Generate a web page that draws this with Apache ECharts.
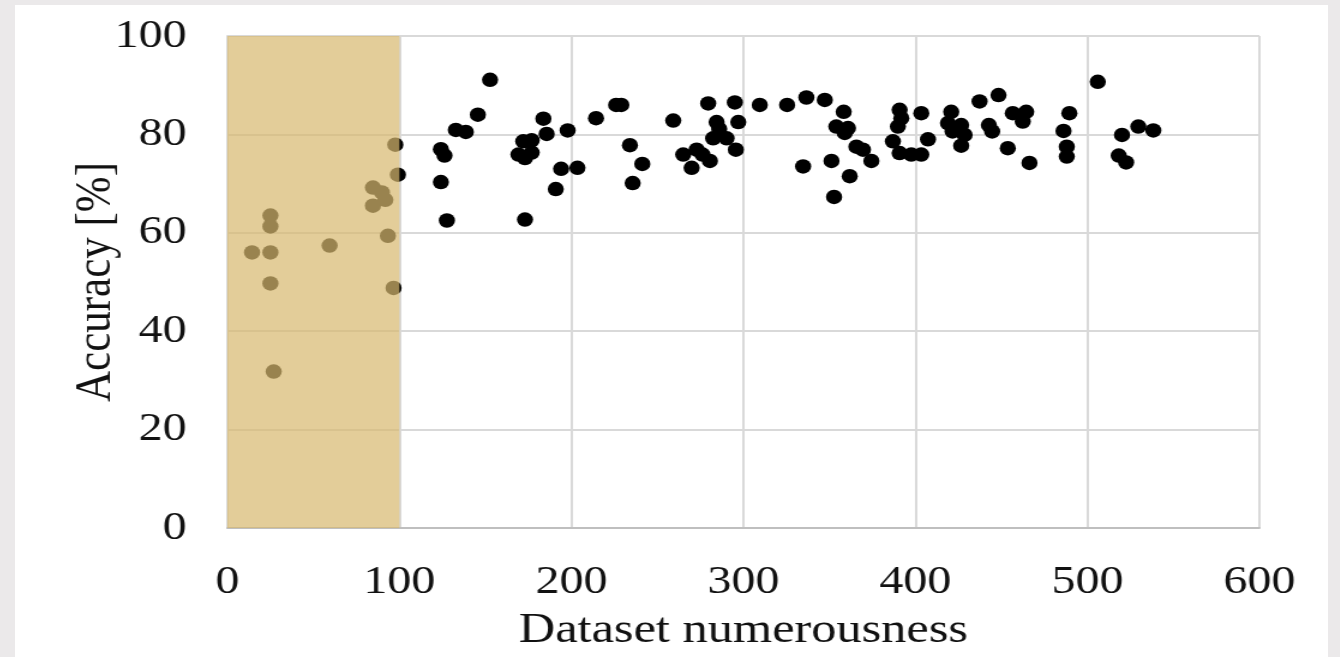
<!DOCTYPE html>
<html>
<head>
<meta charset="utf-8">
<script src="https://cdn.jsdelivr.net/npm/echarts@6/dist/echarts.min.js"></script>
<style>
html,body{margin:0;padding:0;background:#ebe9ea;width:1340px;height:657px;overflow:hidden;}
#frame{position:absolute;left:15px;top:5px;width:1313px;height:652px;background:#ffffff;overflow:hidden;}
#chart{position:absolute;left:0;top:0;width:1094px;height:652px;transform:scaleX(1.2);transform-origin:0 0;}
</style>
</head>
<body>
<div id="frame"><div id="chart"></div></div>
<script>
// Dataset numerousness (x) and Accuracy [%] (y)
const numerousness = [
  97.6, 99.1, 84.6, 89.8, 91.8, 84.6, 25, 25, 93.3, 59.4, 14.3, 25, 25, 96.6, 26.9,
  152.7, 145.6, 132.8, 138.6, 124.1, 126.2, 124.1, 127.6,
  183.7, 172, 176.9, 169.2, 173, 176.9, 185.6, 197.8, 214.3, 226, 229, 234, 241.2, 235.6, 194, 203.5, 190.9, 173,
  259.2, 279.5, 295, 309.5, 325.4, 334.7, 297, 284.4, 285.9, 282.4, 290.2, 295.6, 265, 272.8, 276.2, 280.5, 269.9,
  336.6, 347.3, 358.3, 354, 360.8, 358.9, 365.7, 369.5, 374.4, 351.2, 361.8, 352.7,
  390.8, 391.8, 389.8, 386.9, 390.8, 397.6, 403.4, 403.4, 407.3,
  420.8, 418.9, 426.6, 421.6, 428.6, 426.6, 437.3, 448.3, 442.7, 444.6, 453.7, 456.6, 464.4, 462.4, 466.3,
  489.5, 486.1, 488, 488,
  506, 520.1, 529.6, 538.3, 518.2, 522.5
];
const accuracy = [
  77.9, 71.8, 69.2, 68.2, 66.7, 65.5, 63.5, 61.3, 59.4, 57.4, 56.0, 56.0, 49.7, 48.8, 31.8,
  91.1, 84.0, 80.9, 80.5, 77.0, 75.7, 70.3, 62.5,
  83.2, 78.6, 78.8, 75.9, 75.2, 76.3, 80.1, 80.8, 83.3, 86.0, 86.0, 77.8, 74.0, 70.1, 73.0, 73.2, 68.9, 62.7,
  82.8, 86.3, 86.5, 86.0, 86.0, 73.5, 82.5, 82.5, 81.1, 79.2, 79.2, 76.9, 75.9, 76.9, 75.9, 74.6, 73.2,
  87.5, 87.0, 84.6, 81.6, 81.3, 80.3, 77.5, 76.9, 74.6, 74.6, 71.5, 67.3,
  85.0, 83.3, 81.6, 78.6, 76.2, 75.9, 75.9, 84.3, 79.0,
  84.6, 82.3, 81.9, 80.6, 79.9, 77.7, 86.7, 88.0, 81.9, 80.6, 77.2, 84.3, 84.6, 82.6, 74.2,
  84.3, 80.7, 77.5, 75.5,
  90.7, 79.9, 81.6, 80.8, 75.7, 74.3
];
// Highlighted (shaded) range of dataset numerousness
const shadedRange = [0, 100];
const xTicks = [0, 100, 200, 300, 400, 500, 600];
const yTicks = [0, 20, 40, 60, 80, 100];

const points = numerousness.map((x, i) => [x, accuracy[i]]);
const FONT = '"Liberation Serif", "Times New Roman", serif';

const chart = echarts.init(document.getElementById('chart'), null, {renderer: 'canvas'});
chart.setOption({
  animation: false,
  backgroundColor: '#ffffff',
  grid: {left: 177, right: 57, top: 31, bottom: 128, containLabel: false},
  xAxis: {
    type: 'value',
    min: xTicks[0], max: xTicks[xTicks.length - 1], interval: 100,
    name: 'Dataset numerousness',
    nameLocation: 'middle',
    nameGap: 82,
    nameMoveOverlap: false,
    nameTextStyle: {fontFamily: FONT, fontSize: 42, color: '#111'},
    axisLine: {show: true, lineStyle: {color: '#bfbfbf', width: 2}},
    axisTick: {show: false},
    axisLabel: {fontFamily: FONT, fontSize: 40, color: '#111', margin: 34},
    splitLine: {show: true, lineStyle: {color: '#d9d9d9', width: 2}}
  },
  yAxis: {
    type: 'value',
    min: yTicks[0], max: yTicks[yTicks.length - 1], interval: 20,
    name: 'Accuracy [%]',
    nameLocation: 'middle',
    nameGap: 88,
    nameRotate: 90,
    nameMoveOverlap: false,
    nameTextStyle: {fontFamily: FONT, fontSize: 43, color: '#111'},
    axisLine: {show: true, lineStyle: {color: '#d9d9d9', width: 2}},
    axisTick: {show: false},
    axisLabel: {fontFamily: FONT, fontSize: 40, color: '#111', margin: 34},
    splitLine: {show: true, lineStyle: {color: '#d9d9d9', width: 2}}
  },
  series: [{
    type: 'scatter',
    data: points,
    symbol: 'circle',
    symbolSize: [13.5, 14.5],
    itemStyle: {color: '#000000', opacity: 1},
    z: 2,
    markArea: {
      silent: true,
      z: 10,
      itemStyle: {color: 'rgba(216,184,112,0.71)', borderWidth: 0},
      data: [[{xAxis: shadedRange[0]}, {xAxis: shadedRange[1]}]]
    }
  }]
});
</script>
</body>
</html>
